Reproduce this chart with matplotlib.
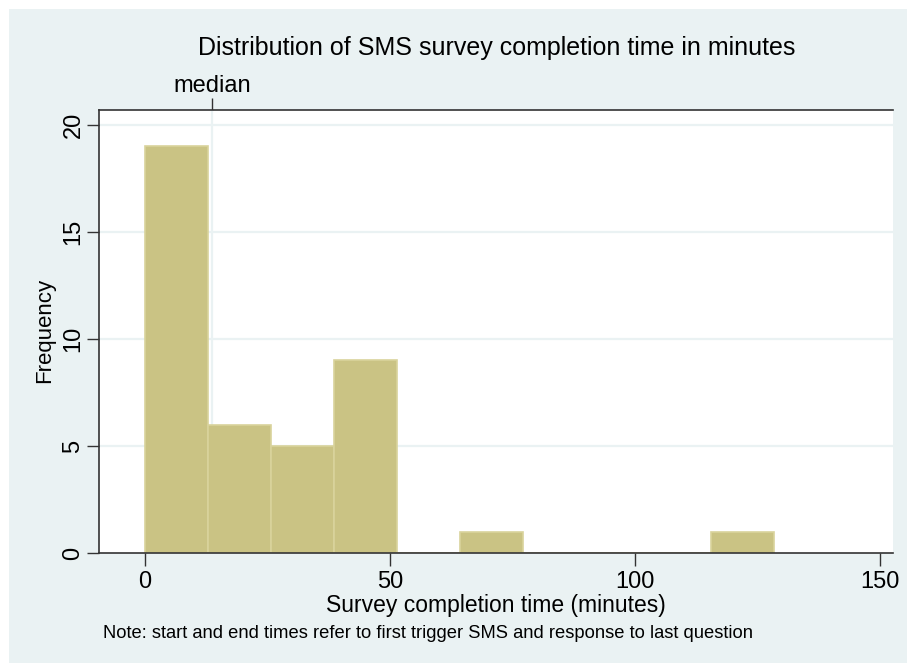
import numpy as np
import matplotlib
matplotlib.use('Agg')
import matplotlib.pyplot as plt
from matplotlib.patches import Rectangle

plt.rcParams['font.family'] = ['Liberation Sans', 'DejaVu Sans']

# data
counts = [19, 6, 5, 9, 0, 1, 0, 0, 0, 1]
bin_width = 12.84
bin_edges = np.arange(len(counts)) * bin_width
median_value = 13.7
x_ticks = [0, 50, 100, 150]
y_ticks = [0, 5, 10, 15, 20]

bg = '#EAF2F3'
bar_color = '#CAC384'
bar_edge = '#D9D39C'

fig = plt.figure(figsize=(9.07, 6.63), dpi=100)
fig.patch.set_facecolor('white')
fig.patches.append(Rectangle((9 / 907, 0), 1, 1 - 9 / 663, transform=fig.transFigure,
                             facecolor=bg, edgecolor='none', zorder=-10))

ax = fig.add_axes([99 / 907, 1 - 553 / 663, (893 - 99) / 907, (553 - 110) / 663])
ax.set_facecolor('white')

# grid + median line
for y in y_ticks[1:]:
    ax.axhline(y, color=bg, lw=1.6, zorder=0)
ax.axvline(median_value, color=bg, lw=1.6, zorder=0.5)

ax.bar(bin_edges, counts, width=bin_width, align='edge',
       color=bar_color, edgecolor=bar_edge, linewidth=1.2, zorder=2)

ax.set_xlim(-9.4, 152.6)
ax.set_ylim(0, 20.7)
ax.set_xticks(x_ticks)
ax.set_yticks(y_ticks)
ax.set_yticklabels([str(v) for v in y_ticks], rotation=90, va='center')
ax.tick_params(axis='x', labelsize=17, length=9, width=1, color='#333333', pad=4)
ax.tick_params(axis='y', labelsize=17, length=9, width=1, color='#333333', pad=1.5)

for s in ['left', 'bottom', 'top']:
    ax.spines[s].set_color('#333333')
    ax.spines[s].set_linewidth(1.2)
ax.spines['right'].set_visible(False)

# top axis with median marker
ax2 = ax.secondary_xaxis('top')
ax2.set_xticks([median_value])
ax2.set_xticklabels(['median'])
ax2.tick_params(labelsize=17, length=9, width=1, color='#333333', pad=0)
ax2.spines['top'].set_visible(False)

ax.set_xlabel('Survey completion time (minutes)', fontsize=16.5, labelpad=1)
ax.set_ylabel('Frequency', fontsize=16)
ax.yaxis.set_label_coords(-0.055, 0.503)

fig.text(497 / 907, 1 - 48 / 663, 'Distribution of SMS survey completion time in minutes',
         ha='center', va='center', fontsize=18)
fig.text(103 / 907, 1 - 633 / 663,
         'Note: start and end times refer to first trigger SMS and response to last question',
         ha='left', va='center', fontsize=13.2)

fig.savefig('out.png', dpi=100, facecolor=fig.get_facecolor())
